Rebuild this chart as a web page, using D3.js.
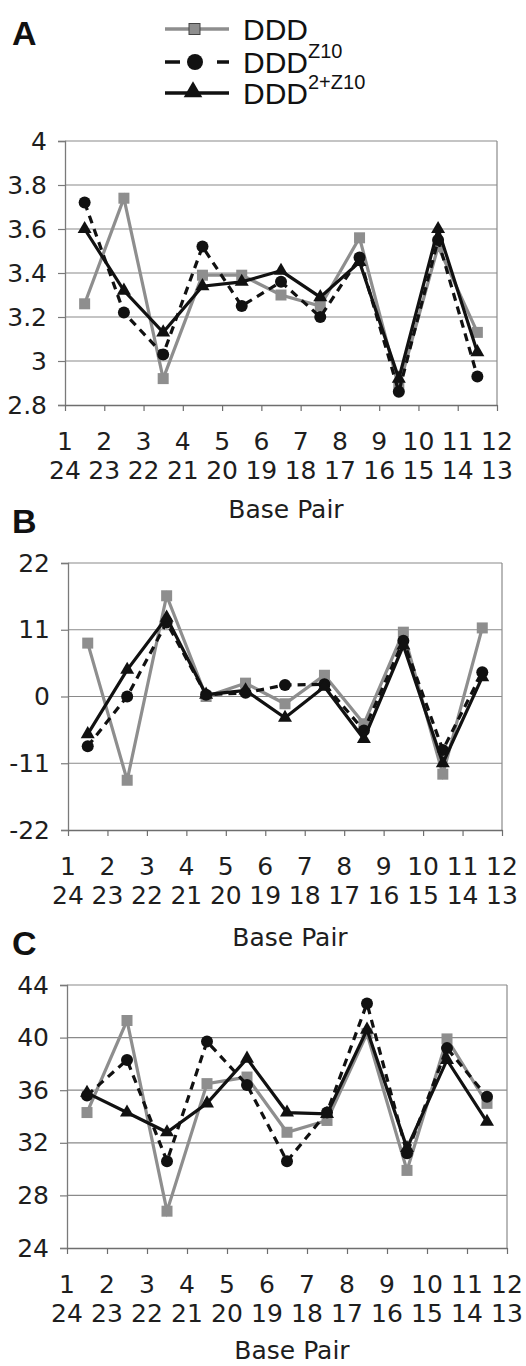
<!DOCTYPE html>
<html>
<head>
<meta charset="utf-8">
<script src="https://cdn.jsdelivr.net/npm/d3@7"></script>
<style>
body { margin: 0; background: #fff; }
.tick-label, .axis-title { font-family: "DejaVu Sans", Verdana, sans-serif; fill: #1e1e1e; }
.legend-text, .panel-letter { font-family: "Liberation Sans", Arial, sans-serif; fill: #111; }
</style>
</head>
<body>
<div id="chart"></div>
<script>
// base pair labels (two rows under each x tick)
const bpTop = [1, 2, 3, 4, 5, 6, 7, 8, 9, 10, 11, 12];
const bpBottom = [24, 23, 22, 21, 20, 19, 18, 17, 16, 15, 14, 13];

// panel A
const aTicks = [2.8, 3, 3.2, 3.4, 3.6, 3.8, 4];
const aDDD    = [3.26, 3.74, 2.92, 3.39, 3.39, 3.30, 3.25, 3.56, 2.88, 3.52, 3.13];
const aZ10    = [3.72, 3.22, 3.03, 3.52, 3.25, 3.36, 3.20, 3.47, 2.86, 3.55, 2.93];
const a2Z10   = [3.60, 3.32, 3.13, 3.34, 3.36, 3.41, 3.29, 3.45, 2.92, 3.60, 3.04];

// panel B
const bTicks = [-22, -11, 0, 11, 22];
const bDDD    = [8.8, -13.8, 16.6, 0, 2.2, -1.2, 3.5, -4.5, 10.6, -12.8, 11.3];
const bZ10    = [-8.2, 0, 12.2, 0.3, 0.6, 1.9, 2.0, -5.6, 9.2, -8.8, 4.0];
const b2Z10   = [-6.2, 4.4, 13.0, 0.3, 1.0, -3.5, 1.6, -7.0, 8.4, -11.0, 3.2];

// panel C
const cTicks = [24, 28, 32, 36, 40, 44];
const cDDD    = [34.3, 41.3, 26.8, 36.5, 37.0, 32.8, 33.7, 40.3, 29.9, 39.9, 35.0];
const cZ10    = [35.6, 38.3, 30.6, 39.7, 36.4, 30.6, 34.3, 42.6, 31.2, 39.2, 35.5];
const c2Z10   = [35.8, 34.3, 32.8, 35.0, 38.4, 34.3, 34.2, 40.6, 31.6, 38.3, 33.6];

const grey = "#8e8e8e";
const gridColor = "#8a8a8a";

const svg = d3.select("#chart").append("svg")
    .attr("width", 526)
    .attr("height", 1366);

// panel letters
[["A", 45], ["B", 533], ["C", 955]].forEach(p => {
    svg.append("text").attr("class", "panel-letter")
        .attr("x", 12).attr("y", p[1])
        .attr("font-size", 34).attr("font-weight", "bold")
        .text(p[0]);
});

// legend
const legend = svg.append("g");
const legendRows = [
    {name: "DDD", sup: "", y: 29, kind: "square"},
    {name: "DDD", sup: "Z10", y: 62, kind: "circle"},
    {name: "DDD", sup: "2+Z10", y: 93, kind: "triangle"}
];
legendRows.forEach(r => {
    let line = legend.append("line")
        .attr("x1", 165).attr("x2", 229)
        .attr("y1", r.y).attr("y2", r.y)
        .attr("stroke-width", 3.5);
    if (r.kind == "square") {
        line.attr("stroke", grey);
        legend.append("rect")
            .attr("x", 189).attr("y", r.y - 5.5)
            .attr("width", 11).attr("height", 11)
            .attr("fill", grey).attr("stroke", "#444").attr("stroke-width", 1);
    } else if (r.kind == "circle") {
        line.attr("stroke", "#111").attr("stroke-dasharray", "15,37");
        legend.append("circle")
            .attr("cx", 195).attr("cy", r.y).attr("r", 8)
            .attr("fill", "#111");
    } else {
        line.attr("stroke", "#111");
        legend.append("path")
            .attr("d", d3.symbol(d3.symbolTriangle).size(150)())
            .attr("transform", `translate(193,${r.y - 1})`)
            .attr("fill", "#111");
    }
    let t = legend.append("text").attr("class", "legend-text")
        .attr("x", 243).attr("y", r.y + 11)
        .attr("font-size", 30)
        .text(r.name);
    if (r.sup) {
        t.append("tspan")
            .attr("dy", -15)
            .attr("font-size", 20)
            .text(r.sup);
    }
});

function drawPanel(cfg) {
    let x = d3.scaleLinear().domain([1, 12]).range([cfg.left, cfg.right]);
    let y = d3.scaleLinear().domain(d3.extent(cfg.ticks)).range([cfg.bottom, cfg.top]);
    let g = svg.append("g");

    // gridlines
    g.selectAll(".grid").data(cfg.ticks.slice(1))
        .enter().append("line")
        .attr("x1", cfg.left).attr("x2", cfg.right)
        .attr("y1", d => y(d)).attr("y2", d => y(d))
        .attr("stroke", gridColor).attr("stroke-width", 1.2);

    // right border
    g.append("line")
        .attr("x1", cfg.right).attr("x2", cfg.right)
        .attr("y1", cfg.top).attr("y2", cfg.bottom)
        .attr("stroke", gridColor).attr("stroke-width", 1.2);

    // y axis
    let yAxis = d3.axisLeft(y).tickValues(cfg.ticks).tickSize(7).tickPadding(11)
        .tickFormat(d => String(d));
    let yg = g.append("g").attr("transform", `translate(${cfg.left},0)`).call(yAxis);
    yg.select(".domain").attr("stroke", "#7a7a7a").attr("stroke-width", 1.3);
    yg.selectAll(".tick line").attr("stroke", "#7a7a7a").attr("stroke-width", 1.2);
    yg.selectAll(".tick text").attr("class", "tick-label")
        .attr("font-size", 25).attr("fill", "#1e1e1e");

    // x axis
    let xAxis = d3.axisBottom(x).tickValues(bpTop).tickSize(6).tickSizeOuter(0).tickFormat("");
    let xg = g.append("g").attr("transform", `translate(0,${cfg.bottom})`).call(xAxis);
    xg.select(".domain").attr("stroke", "#6e6e6e").attr("stroke-width", 1.5);
    xg.selectAll(".tick line").attr("stroke", "#6e6e6e").attr("stroke-width", 1.2);

    g.selectAll(".bp-top").data(bpTop).enter().append("text")
        .attr("class", "tick-label")
        .attr("x", d => x(d)).attr("y", cfg.bottom + 45)
        .attr("text-anchor", "middle").attr("font-size", 25)
        .text(d => d);
    g.selectAll(".bp-bottom").data(bpBottom).enter().append("text")
        .attr("class", "tick-label")
        .attr("x", (d, i) => x(bpTop[i])).attr("y", cfg.bottom + 74)
        .attr("text-anchor", "middle").attr("font-size", 25)
        .text(d => d);
    g.append("text").attr("class", "axis-title")
        .attr("x", (cfg.left + cfg.right) / 2 + 5).attr("y", cfg.bottom + cfg.titleGap)
        .attr("text-anchor", "middle").attr("font-size", 25)
        .text("Base Pair");

    let line = d3.line().x((d, i) => x(i + 1.5)).y(d => y(d));

    // DDD (grey squares)
    g.append("path").datum(cfg.ddd)
        .attr("d", line).attr("fill", "none")
        .attr("stroke", grey).attr("stroke-width", 3.2);
    g.selectAll(".sq").data(cfg.ddd).enter().append("rect")
        .attr("x", (d, i) => x(i + 1.5) - 5.5).attr("y", d => y(d) - 5.5)
        .attr("width", 11).attr("height", 11)
        .attr("fill", grey);

    // DDD Z10 (dashed, circles)
    g.append("path").datum(cfg.z10)
        .attr("d", line).attr("fill", "none")
        .attr("stroke", "#111").attr("stroke-width", 3.2)
        .attr("stroke-dasharray", "8,6");
    g.selectAll(".dot").data(cfg.z10).enter().append("circle")
        .attr("cx", (d, i) => x(i + 1.5)).attr("cy", d => y(d))
        .attr("r", 6).attr("fill", "#111");

    // DDD 2+Z10 (solid, triangles)
    g.append("path").datum(cfg.z2)
        .attr("d", line).attr("fill", "none")
        .attr("stroke", "#111").attr("stroke-width", 3.2);
    g.selectAll(".tri").data(cfg.z2).enter().append("path")
        .attr("d", d3.symbol(d3.symbolTriangle).size(85)())
        .attr("transform", (d, i) => `translate(${x(i + 1.5)},${y(d)})`)
        .attr("fill", "#111");
}

drawPanel({left: 65, right: 497, top: 141, bottom: 405, titleGap: 113, ticks: aTicks, ddd: aDDD, z10: aZ10, z2: a2Z10});
drawPanel({left: 68, right: 502, top: 563, bottom: 830, titleGap: 116, ticks: bTicks, ddd: bDDD, z10: bZ10, z2: b2Z10});
drawPanel({left: 67, right: 507, top: 985, bottom: 1248, titleGap: 111, ticks: cTicks, ddd: cDDD, z10: cZ10, z2: c2Z10});
</script>
</body>
</html>
